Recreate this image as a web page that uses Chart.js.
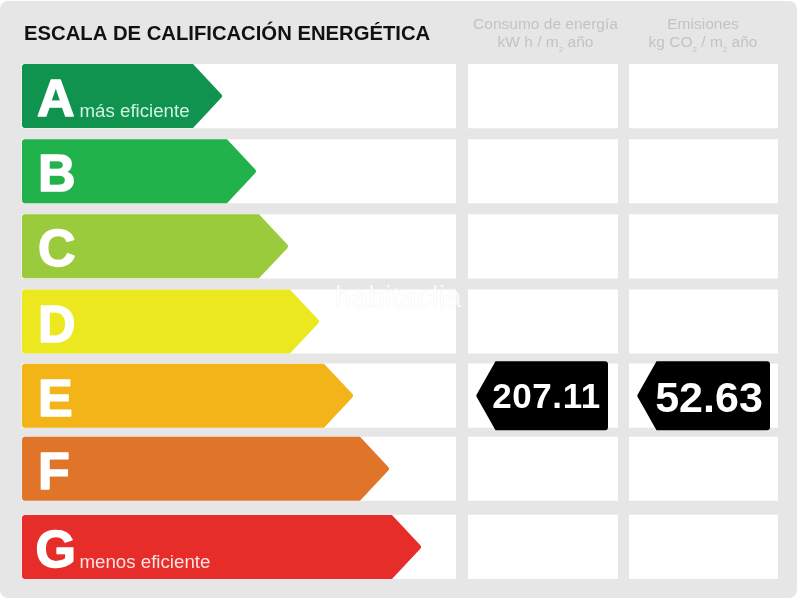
<!DOCTYPE html>
<html>
<head>
<meta charset="utf-8">
<style>
  html, body { margin: 0; padding: 0; background: #fff; }
  canvas { display: block; }
</style>
<script src="https://cdn.jsdelivr.net/npm/chart.js@4/dist/chart.umd.js"></script>
</head>
<body>
<canvas id="chart" width="800" height="600"></canvas>
<script>
const categories = ['A', 'B', 'C', 'D', 'E', 'F', 'G'];
const arrowLengths = [201, 235, 267, 298, 332, 368, 400];
const consumoValues = [null, null, null, null, 207.11, null, null];
const emisionValues = [null, null, null, null, 52.63, null, null];
const arrowColors = ['#10934f', '#21b24b', '#9acb3c', '#ece81f', '#f2b418', '#e0752a', '#e72d2a'];
const chartTitle = 'ESCALA DE CALIFICACIÓN ENERGÉTICA';
const consumoHeader = ['Consumo de energía', 'kW h / m|2| año'];
const emisionHeader = ['Emisiones', 'kg CO|2| / m|2| año'];
const rowNotes = { A: 'más eficiente', G: 'menos eficiente' };

const FONT = '"Liberation Sans", Arial, sans-serif';
const rowShift = [0, 0, 0, 0, -1, -3, 0];

function polygon(ctx, points) {
  const n = points.length;
  ctx.beginPath();
  ctx.moveTo((points[n - 1][0] + points[0][0]) / 2, (points[n - 1][1] + points[0][1]) / 2);
  for (let i = 0; i < n; i++) {
    const next = points[(i + 1) % n];
    ctx.arcTo(points[i][0], points[i][1], next[0], next[1], points[i][2]);
  }
  ctx.closePath();
  ctx.fill();
}

// header line, the |2| parts are subscripts
function headerLine(ctx, line, cx, y) {
  const parts = line.split('|');
  let width = 0;
  parts.forEach((p, i) => {
    ctx.font = (i % 2 ? 8 : 15.5) + 'px ' + FONT;
    width += ctx.measureText(p).width;
  });
  let x = cx - width / 2;
  parts.forEach((p, i) => {
    ctx.font = (i % 2 ? 8 : 15.5) + 'px ' + FONT;
    ctx.fillText(p, x, i % 2 ? y + 5 : y);
    x += ctx.measureText(p).width;
  });
}

const energyLabel = {
  id: 'energyLabel',
  beforeDraw(chart) {
    const ctx = chart.ctx;
    ctx.save();
    ctx.fillStyle = '#e6e6e6';
    ctx.beginPath();
    ctx.roundRect(0, 1, 797, 597, 8);
    ctx.fill();
    ctx.restore();
  },
  afterDatasetsUpdate(chart) {
    chart.data.datasets.forEach((ds, d) => {
      chart.getDatasetMeta(d).data.forEach((bar, i) => { bar.y += rowShift[i]; });
    });
  },
  beforeDatasetDraw(chart, args) {
    const ds = chart.data.datasets[args.index];
    if (!ds.kind) return;
    const ctx = chart.ctx;
    ctx.save();
    args.meta.data.forEach((bar, i) => {
      if (ds.data[i] === null) return;
      const h = bar.height / 2;
      ctx.fillStyle = Array.isArray(ds.backgroundColor) ? ds.backgroundColor[i] : ds.backgroundColor;
      if (ds.kind === 'arrow') {
        polygon(ctx, [
          [bar.base, bar.y - h, 3],
          [bar.x - 30, bar.y - h, 0],
          [bar.x, bar.y, 3],
          [bar.x - 30, bar.y + h, 0],
          [bar.base, bar.y + h, 3],
        ]);
      } else {
        polygon(ctx, [
          [bar.x, bar.y - h, 3],
          [bar.x, bar.y + h, 3],
          [bar.base + 19.5, bar.y + h, 0],
          [bar.base, bar.y, 2],
          [bar.base + 19.5, bar.y - h, 0],
        ]);
      }
    });
    ctx.restore();
    return false;
  },
  afterDatasetsDraw(chart) {
    const ctx = chart.ctx;
    const yScale = chart.scales.y;
    ctx.save();
    ctx.textBaseline = 'alphabetic';
    ctx.lineJoin = 'round';

    ctx.fillStyle = '#111';
    ctx.font = 'bold 20.25px ' + FONT;
    ctx.fillText(chartTitle, 24, 40);

    ctx.fillStyle = '#c3c3c3';
    ctx.textAlign = 'left';
    consumoHeader.forEach((line, i) => headerLine(ctx, line, 545.5, 29 + i * 18));
    emisionHeader.forEach((line, i) => headerLine(ctx, line, 703, 29 + i * 18));

    categories.forEach((cat, i) => {
      const y = yScale.getPixelForValue(i) + rowShift[i];
      const x = cat === 'A' ? 37 : cat === 'G' ? 35.5 : 38;
      ctx.fillStyle = '#fff';
      ctx.strokeStyle = '#fff';
      ctx.lineWidth = 1.5;
      ctx.font = 'bold 52px ' + FONT;
      ctx.strokeText(cat, x, y + 20);
      ctx.fillText(cat, x, y + 20);
      if (rowNotes[cat]) {
        ctx.font = '18.7px ' + FONT;
        ctx.fillStyle = cat === 'A' ? '#d2f3df' : '#fbe3e2';
        ctx.fillText(rowNotes[cat], 79.5, y + 21);
      }
    });

    // the two readings sit in their black tags
    ctx.fillStyle = '#fff';
    ctx.textAlign = 'center';
    consumoValues.forEach((v, i) => {
      if (v === null) return;
      ctx.font = 'bold 35px ' + FONT;
      ctx.letterSpacing = '0.6px';
      ctx.fillText(v.toFixed(2), 546.5, yScale.getPixelForValue(i) + rowShift[i] + 12.5);
      ctx.letterSpacing = '0px';
    });
    emisionValues.forEach((v, i) => {
      if (v === null) return;
      ctx.font = 'bold 43px ' + FONT;
      ctx.fillText(v.toFixed(2), 709, yScale.getPixelForValue(i) + rowShift[i] + 16.5);
    });

    // site watermark
    ctx.font = '30px ' + FONT;
    ctx.textAlign = 'left';
    ctx.strokeStyle = 'rgba(225,225,225,0.35)';
    ctx.lineWidth = 1;
    ctx.strokeText('habitaclia', 335, 307);
    ctx.fillStyle = 'rgba(255,255,255,0.7)';
    ctx.fillText('habitaclia', 335, 307);
    ctx.restore();
  },
};

function track(from, to) {
  return {
    data: categories.map(() => [from, to]),
    backgroundColor: '#fff',
    barThickness: 63.5,
    grouped: false,
    order: 3,
  };
}

function tag(values, from, to) {
  return {
    kind: 'tag',
    data: values.map(v => (v === null ? null : [from, to])),
    backgroundColor: '#000',
    barThickness: 69,
    grouped: false,
    order: 1,
  };
}

new Chart(document.getElementById('chart'), {
  type: 'bar',
  data: {
    labels: categories,
    datasets: [
      track(0, 433.7),
      track(446.3, 595.7),
      track(607.3, 755.7),
      {
        kind: 'arrow',
        data: arrowLengths.map(v => [0, v]),
        backgroundColor: arrowColors,
        barThickness: 64,
        grouped: false,
        order: 2,
      },
      tag(consumoValues, 454, 586),
      tag(emisionValues, 615, 748),
    ],
  },
  options: {
    indexAxis: 'y',
    responsive: false,
    animation: false,
    layout: { padding: { top: 58.5, bottom: 15.5, left: 0, right: 0 } },
    scales: {
      x: { display: false, type: 'linear', min: -22, max: 778 },
      y: { display: false, type: 'category' },
    },
    plugins: {
      legend: { display: false },
      title: { display: false },
      tooltip: { enabled: false },
    },
  },
  plugins: [energyLabel],
});
</script>
</body>
</html>
